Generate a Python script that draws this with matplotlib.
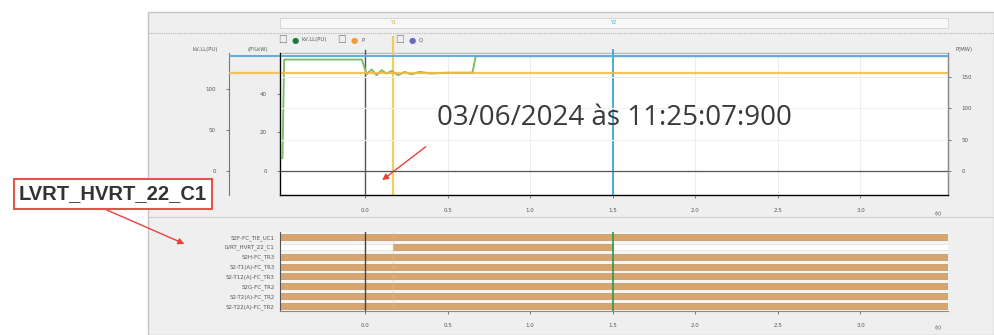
import matplotlib
matplotlib.use('Agg')
import matplotlib.pyplot as plt
from matplotlib.patches import Rectangle
from matplotlib.lines import Line2D

W, H = 994, 335

x_ticks = [0.0, 0.5, 1.0, 1.5, 2.0, 2.5, 3.0]
x_tick_labels = ['0.0', '0.5', '1.0', '1.5', '2.0', '2.5', '3.0']
t_min, t_max = -0.515, 3.53

# tensao kV,LL (eixo esquerdo externo)
t_kv = [-0.515, -0.50, -0.49, -0.04, -0.02, 0.01, 0.04, 0.07, 0.10, 0.13,
        0.16, 0.20, 0.24, 0.28, 0.33, 0.40, 0.50, 0.60, 0.65, 0.67, 3.53]
kv = [16, 16, 136, 136, 136, 118, 124, 117, 123, 119,
      122, 117, 121, 118, 121, 119, 120, 120, 120, 140, 140]

# P e Q (eixo direito)
t_p = [-0.82, 3.53]
p_mw = [157, 157]
t_q = [-0.82, 3.53]
q_mvar = [184, 184]

cursor_t0 = 0.0
cursor_y1 = 0.17
cursor_y2 = 1.5

# canais digitais
row_labels = ['52F-FC_TIE_UC1', 'LVRT_HVRT_22_C1', '52H-FC_TR3', '52-T1(A)-FC_TR3',
              '52-T12(A)-FC_TR3', '52G-FC_TR2', '52-T2(A)-FC_TR2', '52-T22(A)-FC_TR2']
row_on_start = [-0.515, 0.17, -0.515, -0.515, -0.515, -0.515, -0.515, -0.515]
row_on_end = [3.53, 1.5, 3.53, 3.53, 3.53, 3.53, 3.53, 3.53]

fig = plt.figure(figsize=(W / 100, H / 100), dpi=100)
fig.patch.set_facecolor('white')

# painel cinza da ferramenta
fig.add_artist(Rectangle((148 / W, 0), 1 - 148 / W, 1 - 12 / H, transform=fig.transFigure,
                         facecolor='#efefef', edgecolor='#c4c4c4', lw=1.0, zorder=0))
fig.add_artist(Rectangle((280 / W, 1 - 28 / H), 668 / W, 10 / H, transform=fig.transFigure,
                         facecolor='#f8f8f8', edgecolor='#d2d2d2', lw=0.6, zorder=1))
fig.add_artist(Line2D([148 / W, 1], [1 - 33 / H] * 2, transform=fig.transFigure,
                      color='#b5b5b5', lw=0.8, ls=(0, (1, 1))))
fig.add_artist(Line2D([148 / W, 1], [1 - 217 / H] * 2, transform=fig.transFigure,
                      color='#cfcfcf', lw=0.8))
fig.text(393 / W, 1 - 23 / H, 'Y1', fontsize=3.5, color='#d4b030', ha='center', va='center')
fig.text(613 / W, 1 - 23 / H, 'Y2', fontsize=3.5, color='#3aa7d9', ha='center', va='center')

# legenda
leg = [(283, '#1e7a3c', 'kV,LL(PU)'), (342, '#f29a3a', 'P'), (400, '#6a6ab8', 'Q')]
for x0, c, name in leg:
    fig.text(x0 / W, 1 - 40 / H, '\u2610', fontsize=7, color='#777777', ha='center', va='center')
    fig.text((x0 + 12) / W, 1 - 40 / H, '\u25cf', fontsize=6, color=c, ha='center', va='center')
    fig.text((x0 + 19) / W, 1 - 40 / H, name, fontsize=3.8, color='#555555', ha='left', va='center')

tick_kw = dict(labelsize=4, labelcolor='#555555', color='#666666', length=2.5, width=0.6)

# grafico analogico
ax = fig.add_axes([280 / W, 1 - 195 / H, 668 / W, 142 / H])
ax.set_facecolor('white')
ax.set_xlim(t_min, t_max)
ax.set_ylim(-12.5, 61)
ax.set_yticks([0, 20, 40])
ax.set_xticks(x_ticks)
ax.set_xticklabels(x_tick_labels)
ax.tick_params(**tick_kw, pad=7)
ax.grid(axis='x', color='#ededed', lw=0.8)
for s in ax.spines.values():
    s.set_color('#8a8a8a')
    s.set_linewidth(1.0)
ax.spines['top'].set_color('#b8b8b8')
ax.spines['left'].set_color('#555555')
ax.axvline(cursor_t0, ymax=1.02, color='#555555', lw=1.0, clip_on=False, zorder=3)
ax.axvline(cursor_y1, ymax=1.11, color='#f2c84b', lw=1.6, alpha=0.9, clip_on=False, zorder=3)
ax.axvline(cursor_y2, ymax=1.02, color='#3aa7d9', lw=1.3, clip_on=False, zorder=3)
ax.text(0.985, -0.127, '(s)', transform=ax.transAxes, fontsize=4, color='#555555',
        ha='center', va='center')

ax_kv = ax.twinx()
ax_kv.spines['left'].set_position(('axes', -51 / 668))
ax_kv.spines['left'].set_visible(True)
ax_kv.spines['left'].set_color('#777777')
ax_kv.spines['right'].set_visible(False)
ax_kv.spines['top'].set_visible(False)
ax_kv.yaxis.set_label_position('left')
ax_kv.yaxis.set_ticks_position('left')
ax_kv.set_ylim(-29, 144)
ax_kv.set_yticks([0, 50, 100])
ax_kv.tick_params(**tick_kw, pad=7)
ax_kv.plot(t_kv, kv, color='#7dbf6a', lw=1.4, zorder=4)

ax_p = ax.twinx()
ax_p.set_ylim(-39, 189)
ax_p.set_yticks([0, 50, 100, 150])
ax_p.tick_params(**tick_kw, pad=7)
ax_p.spines['right'].set_color('#8a8a8a')
ax_p.spines['top'].set_visible(False)
ax_p.grid(axis='y', color='#f0f0f0', lw=0.8)
ax_p.axhline(0, color='#555555', lw=0.9, zorder=2)
ax_p.plot(t_p, p_mw, color='#f5b942', lw=1.6, alpha=0.85, clip_on=False)
ax_p.plot(t_q, q_mvar, color='#5aaee0', lw=1.4, clip_on=False)

fig.text(205 / W, 1 - 50 / H, 'kV,LL(PU)', fontsize=3.8, color='#555555', ha='center', va='center')
fig.text(258 / W, 1 - 50 / H, '(P%kW)', fontsize=3.8, color='#555555', ha='center', va='center')
fig.text(964 / W, 1 - 50 / H, 'P(MW)', fontsize=3.8, color='#555555', ha='center', va='center')

# anotacao
fig.text(614 / W, 1 - 118 / H, '03/06/2024 às 11:25:07:900', fontsize=20, family='Open Sans',
         color='#3a3a3a', ha='center', va='center')
ax.annotate('', xy=(0.09, -5.7), xycoords='data', xytext=(428 / W, 1 - 145 / H),
            textcoords='figure fraction',
            arrowprops=dict(arrowstyle='-|>', color='#e8413a', lw=1.0, mutation_scale=9))

# canais digitais
ax2 = fig.add_axes([280 / W, 1 - 311 / H, 668 / W, 79 / H])
ax2.set_facecolor('#f7f5f2')
ax2.set_xlim(t_min, t_max)
ax2.set_ylim(len(row_labels) - 0.5, -0.5)
for i in range(len(row_labels)):
    ax2.barh(i, t_max - t_min, left=t_min, height=0.62, color='white',
             edgecolor='#d8d8d8', lw=0.4, zorder=1)
    ax2.barh(i, row_on_end[i] - row_on_start[i], left=row_on_start[i], height=0.62,
             color='#d9a56f', edgecolor='#b9885a', lw=0.4, zorder=2)
ax2.set_yticks(range(len(row_labels)))
ax2.set_yticklabels(row_labels)
ax2.set_xticks(x_ticks)
ax2.set_xticklabels(x_tick_labels)
ax2.tick_params(**tick_kw, pad=6)
ax2.tick_params(axis='y', length=0, pad=4)
for side in ['top', 'right']:
    ax2.spines[side].set_visible(False)
ax2.spines['left'].set_color('#555555')
ax2.spines['bottom'].set_color('#8a8a8a')
ax2.axvline(cursor_t0, color='#444444', lw=1.0, zorder=3)
ax2.axvline(cursor_y1, color='#f2c84b', lw=1.0, alpha=0.35, zorder=3)
ax2.axvline(cursor_y2, color='#2e9a4e', lw=1.2, zorder=3)
ax2.text(0.985, -0.215, '(s)', transform=ax2.transAxes, fontsize=4, color='#555555',
         ha='center', va='center')

# caixa com o nome do canal
fig.text(113 / W, 1 - 194 / H, 'LVRT_HVRT_22_C1', fontsize=14.5, family='Liberation Sans',
         fontweight='bold', color='#333333', ha='center', va='center',
         bbox=dict(boxstyle='square,pad=0.25', facecolor='white', edgecolor='#e0564a', lw=1.5))
fig.add_artist(matplotlib.patches.FancyArrowPatch(
    (100 / W, 1 - 207 / H), (187 / W, 1 - 245 / H), transform=fig.transFigure,
    arrowstyle='-|>', color='#e8413a', lw=1.0, mutation_scale=9))

fig.savefig('out.png', dpi=100)
